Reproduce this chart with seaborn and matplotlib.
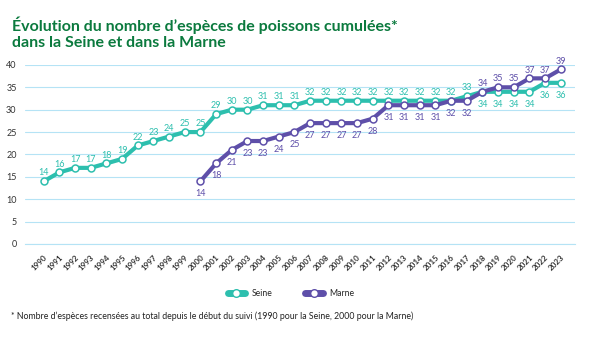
import numpy as np
import pandas as pd
import seaborn as sns
import matplotlib.pyplot as plt
from matplotlib.lines import Line2D

years_seine = list(range(1990, 2024))
seine = [14, 16, 17, 17, 18, 19, 22, 23, 24, 25, 25, 29, 30, 30, 31, 31, 31,
         32, 32, 32, 32, 32, 32, 32, 32, 32, 32, 33, 34, 34, 34, 34, 36, 36]
years_marne = list(range(2000, 2024))
marne = [14, 18, 21, 23, 23, 24, 25, 27, 27, 27, 27, 28, 31, 31, 31, 31, 32,
         32, 34, 35, 35, 37, 37, 39]

teal = '#2dbfae'
purple = '#5e4fa9'
green = '#0b7a3e'

df = pd.concat([
    pd.DataFrame({'annee': years_seine, 'n': seine, 'riviere': 'Seine'}),
    pd.DataFrame({'annee': years_marne, 'n': marne, 'riviere': 'Marne'}),
])

sns.set_style('white')
plt.rcParams['font.family'] = ['Lato', 'DejaVu Sans']

fig = plt.figure(figsize=(6.09, 3.51), dpi=100)
ax = fig.add_axes([0.041, 0.305, 0.903, 0.51])

sns.lineplot(data=df, x='annee', y='n', hue='riviere', palette=[teal, purple],
             marker='o', markersize=5, markerfacecolor='white', markeredgewidth=1.1,
             linewidth=3, ax=ax, legend=False)
for line, c in zip(ax.lines, [teal, purple]):
    line.set_markeredgecolor(c)

# etiquettes des valeurs
for y, v in zip(years_seine, seine):
    below = y >= 2018
    ax.annotate(str(v), (y, v), xytext=(0, -9 if below else 6), textcoords='offset points',
                ha='center', va='center', fontsize=6.5, color=teal)
for y, v in zip(years_marne, marne):
    above = y >= 2018
    ax.annotate(str(v), (y, v), xytext=(0, 6 if above else -9), textcoords='offset points',
                ha='center', va='center', fontsize=6.5, color=purple)

ax.set_xlim(1988.8, 2023.9)
ax.set_ylim(0, 40)
ax.set_yticks(range(0, 41, 5))
ax.set_xticks(years_seine)
ax.set_xticklabels([str(y) for y in years_seine], rotation=45, ha='right',
                   rotation_mode='anchor', fontsize=5.8, fontweight='bold', color='#333333')
ax.tick_params(axis='y', labelsize=6.5, colors='#333333', length=0, pad=6)
ax.tick_params(axis='x', length=5, color='#b5e3f5', width=0.8, pad=2, direction='out')
ax.grid(axis='y', color='#b5e3f5', linewidth=0.8)
ax.set_axisbelow(True)
for s in ['top', 'right', 'left']:
    ax.spines[s].set_visible(False)
ax.spines['bottom'].set_color('#b5e3f5')
ax.spines['bottom'].set_linewidth(0.8)
ax.set_xlabel('')
ax.set_ylabel('')

fig.text(0.02, 0.905, "Évolution du nombre d\u2019espèces de poissons cumulées*\ndans la Seine et dans la Marne",
         fontsize=11.5, fontweight='bold', color=green, va='center', linespacing=1.2)

# legende
handles = [Line2D([], [], color=teal, lw=5, marker='o', markersize=5.5,
                  markerfacecolor='white', markeredgecolor=teal),
           Line2D([], [], color=purple, lw=5, marker='o', markersize=5.5,
                  markerfacecolor='white', markeredgecolor=purple)]
fig.legend(handles, ['Seine', 'Marne'], loc='center', bbox_to_anchor=(0.478, 0.165),
           ncol=2, frameon=False, fontsize=6.2, handlelength=2.0, columnspacing=3.8,
           handletextpad=0.8)

fig.text(0.018, 0.1, "* Nombre d\u2019espèces recensées au total depuis le début du suivi (1990 pour la Seine, 2000 pour la Marne)",
         fontsize=6.3, color='#222222', va='center')

fig.savefig('out.png', dpi=100)
